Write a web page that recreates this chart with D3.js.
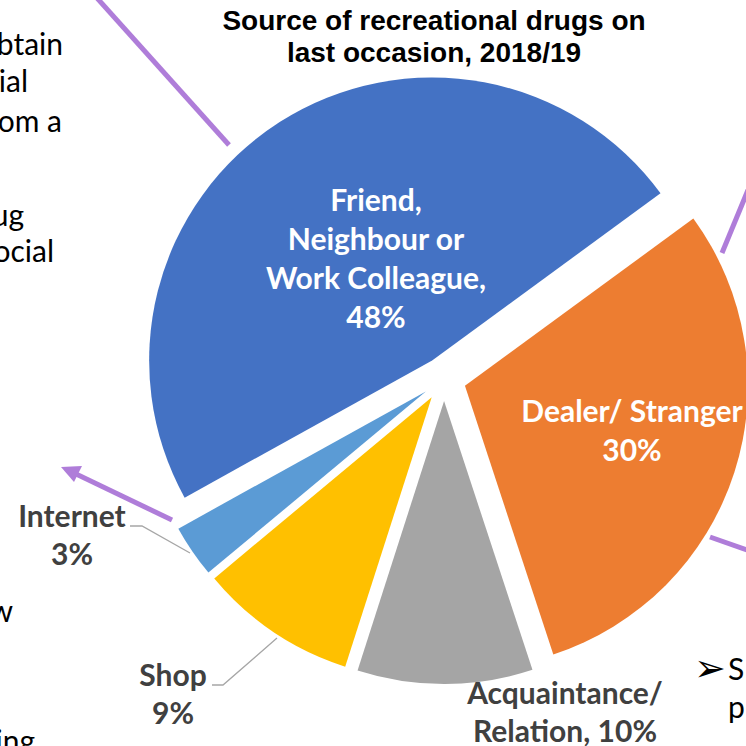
<!DOCTYPE html>
<html>
<head>
<meta charset="utf-8">
<script src="https://cdn.jsdelivr.net/npm/d3@7"></script>
<style>
  html, body { margin: 0; padding: 0; background: #fff; }
  svg { display: block; }
</style>
</head>
<body>
<svg id="chart" width="746" height="746"></svg>
<script>
// ---- data ----
const categories = ["Friend, Neighbour or Work Colleague", "Dealer/ Stranger", "Acquaintance/ Relation", "Shop", "Internet"];
const values = [48, 30, 10, 9, 3];
const colors = ["#4472C4", "#ED7D31", "#A5A5A5", "#FFC000", "#5B9BD5"];
const labelLines = [
  ["Friend,", "Neighbour or", "Work Colleague,", "48%"],
  ["Dealer/ Stranger", "30%"],
  ["Acquaintance/", "Relation, 10%"],
  ["Shop", "9%"],
  ["Internet", "3%"]
];
const titleLines = ["Source of recreational drugs on", "last occasion, 2018/19"];
const leftFragments = ["btain", "ial", "om a", "ug", "ocial", "w", "ing"];
const rightFragments = ["S", "p"];

// ---- layout ----
const svg = d3.select("#chart");
const cx = 444, cy = 379, R = 283, explode = 22;
const start = 241 * Math.PI / 180;
const bodyFont = "Lato, 'Open Sans', sans-serif";

const pie = d3.pie().sort(null).value(d => d).startAngle(start).endAngle(start + 2 * Math.PI);
const arc = d3.arc().innerRadius(0).outerRadius(R);
const arcs = pie(values);

// background slide text fragments (clipped by the window edge, as in the slide)
const fragPos = [[63, 55], [28, 92], [62, 132], [24, 226], [54, 262], [13, 622], [35, 752]];
svg.append("g").selectAll("text").data(leftFragments).join("text")
  .attr("x", (d, i) => fragPos[i][0]).attr("y", (d, i) => fragPos[i][1])
  .attr("text-anchor", "end")
  .attr("font-family", bodyFont).attr("font-size", 30).attr("fill", "#000")
  .text(d => d);

// purple arrows / connectors from slide
const purple = "#AF7DD9";
const pg = svg.append("g").attr("stroke", purple).attr("stroke-width", 5).attr("fill", "none");
pg.append("line").attr("x1", 97).attr("y1", -2).attr("x2", 229).attr("y2", 145);
pg.append("line").attr("x1", 748).attr("y1", 190).attr("x2", 722).attr("y2", 253);
pg.append("line").attr("x1", 710).attr("y1", 537).attr("x2", 750).attr("y2", 551);
pg.append("line").attr("x1", 172).attr("y1", 520).attr("x2", 74).attr("y2", 473);
svg.append("path").attr("fill", purple)
  .attr("d", "M61,467 L82,466 L74,482 Z");

// pie slices
const g = svg.append("g").attr("transform", `translate(${cx},${cy})`);
g.selectAll("path").data(arcs).join("path")
  .attr("transform", d => {
    const m = (d.startAngle + d.endAngle) / 2;
    return `translate(${explode * Math.sin(m)},${-explode * Math.cos(m)})`;
  })
  .attr("d", arc)
  .attr("fill", (d, i) => colors[i]);

// title
svg.append("g").selectAll("text").data(titleLines).join("text")
  .attr("x", 434).attr("y", (d, i) => 30 + i * 32)
  .attr("text-anchor", "middle")
  .attr("font-family", "'Liberation Sans', Arial, sans-serif")
  .attr("font-weight", "bold").attr("font-size", 28).attr("fill", "#000")
  .text(d => d);

// leader lines
const lg = svg.append("g").attr("stroke", "#A6A6A6").attr("stroke-width", 1.3).attr("fill", "none");
lg.append("polyline").attr("points", "130,526 142,526 190,553");
lg.append("polyline").attr("points", "212,685 223,685 277,638");

// data labels
const labelPos = [
  { x: 376, y: 211, lh: 39, fill: "#fff" },
  { x: 632, y: 422, lh: 39, fill: "#fff" },
  { x: 565, y: 704, lh: 38, fill: "#404040" },
  { x: 173, y: 686, lh: 38, fill: "#404040" },
  { x: 72, y: 527, lh: 38, fill: "#404040" }
];
labelLines.forEach((lines, i) => {
  const p = labelPos[i];
  svg.append("g").selectAll("text").data(lines).join("text")
    .attr("x", p.x).attr("y", (d, j) => p.y + j * p.lh)
    .attr("text-anchor", "middle")
    .attr("font-family", bodyFont).attr("font-weight", "bold")
    .attr("font-size", 30).attr("fill", p.fill)
    .text(d => d);
});

// right-hand slide bullet
svg.append("text").attr("x", 694).attr("y", 681)
  .attr("font-family", "'DejaVu Sans', sans-serif").attr("font-size", 38).attr("fill", "#000")
  .text("\u27A2");
svg.append("g").selectAll("text").data(rightFragments).join("text")
  .attr("x", 728).attr("y", (d, i) => 680 + i * 38)
  .attr("font-family", bodyFont).attr("font-size", 30).attr("fill", "#000")
  .text(d => d);
</script>
</body>
</html>
